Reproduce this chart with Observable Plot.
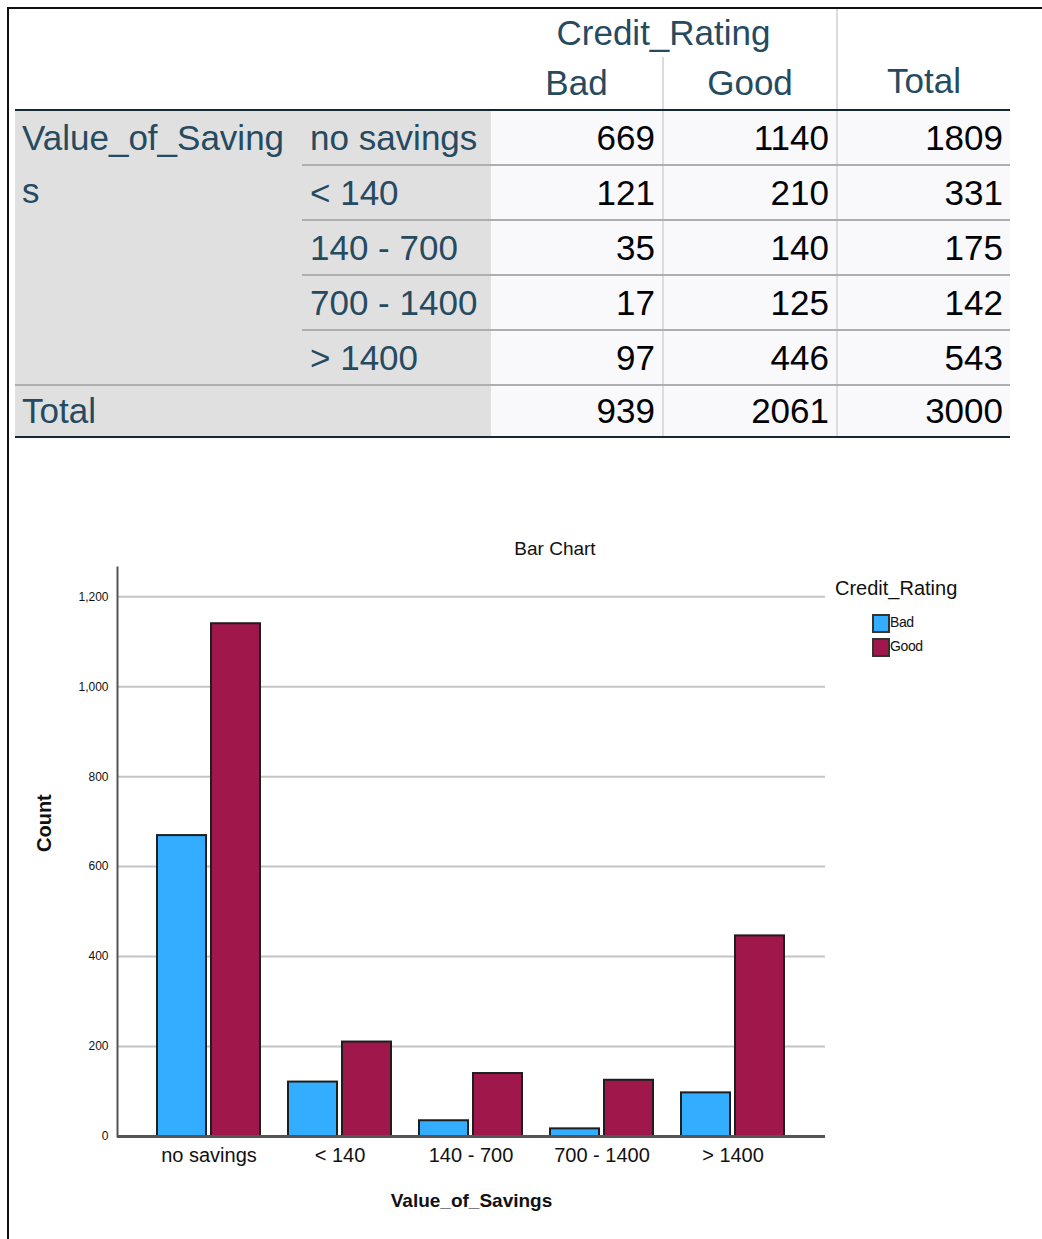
<!DOCTYPE html>
<html>
<head>
<meta charset="utf-8">
<script src="https://cdn.jsdelivr.net/npm/d3@7"></script>
<script src="https://cdn.jsdelivr.net/npm/@observablehq/plot@0.6"></script>
<style>
  html, body { margin:0; padding:0; background:#fff; }
  body { width:1042px; height:1239px; position:relative; overflow:hidden; font-family:"Liberation Sans", Arial, sans-serif; }
  #page-border { position:absolute; left:7px; top:7px; right:-10px; bottom:-10px; border-left:2px solid #111; border-top:2px solid #111; }
  #ct { position:absolute; left:15px; top:9px; border-collapse:collapse; table-layout:fixed; width:995px; font-size:35px; }
  #ct td, #ct th { padding:0; font-weight:normal; white-space:nowrap; }
  #ct .hdr { color:#264a60; text-align:center; }
  #ct .h1 td, #ct .h1 th { height:48px; }
  #ct .h2 th { height:52px; border-bottom:2px solid #152935; }
  #ct .cr { border-right:2px solid #dcdcdc; vertical-align:middle; }
  #ct .tot { border-left:2px solid #dcdcdc; border-bottom:2px solid #152935; vertical-align:bottom; padding-bottom:8px; }
  #ct .bd { border-right:2px solid #dcdcdc; }
  #ct .corner { border-bottom:2px solid #152935; }
  #ct .var { background:#e0e0e0; color:#264a60; vertical-align:top; padding-left:7px; line-height:53px; white-space:normal; border-bottom:2px solid #aeaeae; }
  #ct .cat { background:#e0e0e0; color:#264a60; padding-left:8px; height:53px; border-bottom:2px solid #aeaeae; }
  #ct .num { background:#f9f9fb; color:#010205; text-align:right; padding-right:7px; border-bottom:2px solid #aeaeae; }
  #ct .num.c1, #ct .num.c2 { border-right:2px solid #dcdcdc; }
  #ct .totrow td { height:50px; border-bottom:2px solid #152935; }
  #ct .totlab { background:#e0e0e0; color:#264a60; padding-left:7px; }
  #title { position:absolute; left:405px; width:300px; top:538px; text-align:center; font-size:19px; color:#111; }
  #chart { position:absolute; left:0; top:560px; }
  #legend { position:absolute; left:835px; top:576px; color:#111; }
  #legend .lt { font-size:20px; line-height:24px; margin-bottom:13px; }
  #legend .row { position:relative; height:24px; margin-left:37px; font-size:14px; }
  #legend .sw { position:absolute; left:0; top:1px; width:14px; height:15px; border:2px solid #333; }
  #legend .lab { position:absolute; left:18px; top:1px; letter-spacing:-0.4px; }
</style>
</head>
<body>
<div id="page-border"></div>
<div id="tablewrap"></div>
<div id="title">Bar Chart</div>
<div id="chart"></div>
<div id="legend"></div>
<script>
// ---- data ----
const rowVar = "Value_of_Savings";
const colVar = "Credit_Rating";
const categories = ["no savings", "< 140", "140 - 700", "700 - 1400", "> 1400"];
const ratings = ["Bad", "Good"];
const bad = [669, 121, 35, 17, 97];
const good = [1140, 210, 140, 125, 446];
const rowTotals = [1809, 331, 175, 142, 543];
const colTotals = [939, 2061, 3000];
const yTicks = [0, 200, 400, 600, 800, 1000, 1200];
const colors = ["#33adff", "#a0184b"];

// ---- crosstab table ----
let html = '<table id="ct"><colgroup><col style="width:287px"><col style="width:189px"><col style="width:172px"><col style="width:174px"><col style="width:173px"></colgroup>';
html += '<tr class="h1"><td class="corner" colspan="2" rowspan="2"></td><th class="hdr cr" colspan="2">' + colVar + '</th><th class="hdr tot" rowspan="2">Total</th></tr>';
html += '<tr class="h2"><th class="hdr bd">' + ratings[0] + '</th><th class="hdr">' + ratings[1] + '</th></tr>';
categories.forEach((c, i) => {
  html += '<tr>';
  if (i === 0) html += '<td class="var" rowspan="' + categories.length + '">' + rowVar.slice(0, -1) + '<br>' + rowVar.slice(-1) + '</td>';
  html += '<td class="cat">' + c.replace("<", "&lt;").replace(">", "&gt;") + '</td>';
  html += '<td class="num c1">' + bad[i] + '</td><td class="num c2">' + good[i] + '</td><td class="num">' + rowTotals[i] + '</td>';
  html += '</tr>';
});
html += '<tr class="totrow"><td class="totlab" colspan="2">Total</td><td class="num c1">' + colTotals[0] + '</td><td class="num c2">' + colTotals[1] + '</td><td class="num">' + colTotals[2] + '</td></tr>';
html += '</table>';
document.getElementById("tablewrap").innerHTML = html;

// ---- bar chart ----
const data = categories.map((c, i) => ({cat: c, bad: bad[i], good: good[i]}));
const chart = Plot.plot({
  width: 1042,
  height: 679,
  marginLeft: 117,
  marginRight: 217,
  marginTop: 7,
  marginBottom: 103,
  style: {fontFamily: "'Liberation Sans', Arial, sans-serif", color: "#111", background: "transparent", overflow: "visible"},
  x: {domain: categories, paddingInner: 0.212, paddingOuter: 0.29, label: null},
  y: {domain: [0, 1265], label: null},
  marks: [
    Plot.ruleY(yTicks.filter(d => d > 0), {stroke: "#c4c4c4", strokeWidth: 2}),
    Plot.barY(data, {x: "cat", y: "bad", fill: colors[0], stroke: "#1e1e1e", strokeWidth: 2, insetRight: 54}),
    Plot.barY(data, {x: "cat", y: "good", fill: colors[1], stroke: "#1e1e1e", strokeWidth: 2, insetLeft: 54}),
    Plot.ruleY([0], {stroke: "#555", strokeWidth: 3}),
    Plot.frame({anchor: "left", stroke: "#555", strokeWidth: 2}),
    Plot.axisY({ticks: yTicks, tickSize: 0, tickPadding: 9, tickFormat: d3.format(","), fontSize: 12, label: null}),
    Plot.axisX({tickSize: 0, tickPadding: 11, fontSize: 20, label: null}),
    Plot.text([rowVar], {text: d => d, frameAnchor: "bottom", dy: 70, fontSize: 19, fontWeight: "bold"}),
    Plot.text(["Count"], {text: d => d, frameAnchor: "left", dx: -73, rotate: -90, fontSize: 20, fontWeight: "bold"})
  ]
});
document.getElementById("chart").appendChild(chart);

// ---- legend ----
let lg = '<div class="lt">' + colVar + '</div>';
ratings.forEach((r, i) => {
  lg += '<div class="row"><div class="sw" style="background:' + colors[i] + '"></div><div class="lab">' + r + '</div></div>';
});
document.getElementById("legend").innerHTML = lg;
</script>
</body>
</html>
